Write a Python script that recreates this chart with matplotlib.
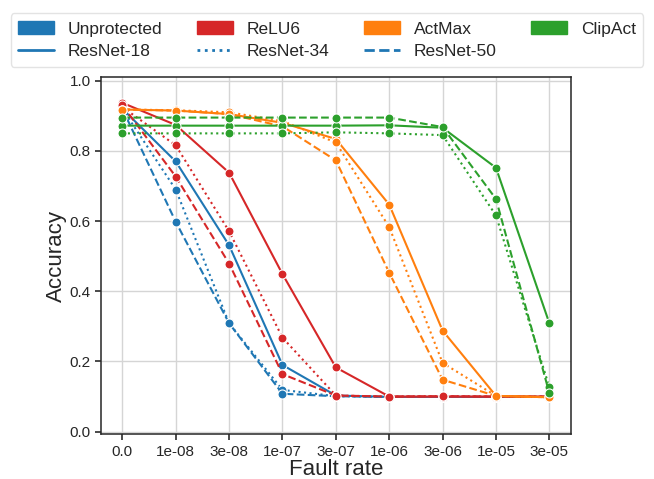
import matplotlib
matplotlib.use("Agg")
import matplotlib.pyplot as plt
import seaborn as sns
from matplotlib.patches import Patch
from matplotlib.lines import Line2D

sns.set_theme(style="ticks")
plt.rcParams['font.family'] = ['Liberation Sans', 'DejaVu Sans']

fault_rates = ["0.0", "1e-08", "3e-08", "1e-07", "3e-07", "1e-06", "3e-06", "1e-05", "3e-05"]
methods = ["Unprotected", "ReLU6", "ActMax", "ClipAct"]
networks = ["ResNet-18", "ResNet-34", "ResNet-50"]

unprotected_r18 = [0.920, 0.770, 0.531, 0.190, 0.103, 0.099, 0.099, 0.099, 0.099]
unprotected_r34 = [0.920, 0.690, 0.309, 0.119, 0.101, 0.099, 0.099, 0.099, 0.099]
unprotected_r50 = [0.920, 0.598, 0.309, 0.108, 0.101, 0.099, 0.099, 0.099, 0.099]

relu6_r18 = [0.937, 0.874, 0.738, 0.449, 0.183, 0.100, 0.100, 0.100, 0.100]
relu6_r34 = [0.925, 0.816, 0.571, 0.268, 0.103, 0.100, 0.101, 0.100, 0.100]
relu6_r50 = [0.930, 0.727, 0.479, 0.164, 0.103, 0.100, 0.101, 0.100, 0.100]

actmax_r18 = [0.918, 0.915, 0.905, 0.880, 0.834, 0.647, 0.288, 0.102, 0.098]
actmax_r34 = [0.918, 0.916, 0.910, 0.885, 0.824, 0.583, 0.196, 0.102, 0.098]
actmax_r50 = [0.918, 0.915, 0.905, 0.870, 0.773, 0.453, 0.148, 0.102, 0.098]

clipact_r18 = [0.872, 0.872, 0.872, 0.872, 0.872, 0.873, 0.866, 0.752, 0.309]
clipact_r34 = [0.850, 0.850, 0.850, 0.850, 0.853, 0.850, 0.845, 0.616, 0.127]
clipact_r50 = [0.895, 0.895, 0.895, 0.895, 0.895, 0.895, 0.868, 0.663, 0.110]

series = {
    "Unprotected": [unprotected_r18, unprotected_r34, unprotected_r50],
    "ReLU6": [relu6_r18, relu6_r34, relu6_r50],
    "ActMax": [actmax_r18, actmax_r34, actmax_r50],
    "ClipAct": [clipact_r18, clipact_r34, clipact_r50],
}

palette = sns.color_palette("tab10")
colors = {"Unprotected": palette[0], "ReLU6": palette[3], "ActMax": palette[1], "ClipAct": palette[2]}
styles = {"ResNet-18": "-", "ResNet-34": ":", "ResNet-50": "--"}

fig = plt.figure(figsize=(6.54, 4.79), dpi=100)
ax = fig.add_axes([101 / 654, 1 - 434.3 / 479, (570.7 - 101) / 654, (434.3 - 76.7) / 479])

xpos = list(range(len(fault_rates)))
for m in methods:
    for net, vals in zip(networks, series[m]):
        ax.plot(xpos, vals, color=colors[m], linestyle=styles[net], linewidth=1.5,
                marker="o", markersize=6.5, markeredgecolor="white", markeredgewidth=0.8)

ax.set_xticks(xpos)
ax.set_xticklabels(fault_rates)
ax.set_xlim(-0.4, len(fault_rates) - 1 + 0.4)
ax.set_ylim(-0.0075, 1.0115)
ax.set_yticks([0.0, 0.2, 0.4, 0.6, 0.8, 1.0])
ax.grid(True, color="#d5d5d5", linewidth=1.0)
ax.set_axisbelow(True)
ax.tick_params(axis="both", labelsize=11, length=4, color="#333333", labelcolor="#262626")
for s in ax.spines.values():
    s.set_color("#262626")
    s.set_linewidth(1.1)
ax.set_xlabel("Fault rate", fontsize=16, color="#262626", labelpad=0)
ax.set_ylabel("Accuracy", fontsize=16, color="#262626", labelpad=2)

handles = [Patch(facecolor=colors[m], edgecolor=colors[m], label=m) for m in methods]
handles += [Line2D([0], [0], color=palette[0], linestyle=styles[n], linewidth=2, label=n) for n in networks]
handles += [Line2D([], [], linestyle="none", label=" ")]
order = [handles[0], handles[4], handles[1], handles[5], handles[2], handles[6], handles[3], handles[7]]
fig.legend(handles=order, loc="upper center", bbox_to_anchor=(0.5, 0.99), ncol=4,
           fontsize=12.5, frameon=True, edgecolor="#dddddd", handlelength=2.05,
           columnspacing=2.0, borderpad=0.45, labelspacing=0.38, handleheight=0.75,
           handletextpad=0.8)

fig.savefig("out.png", dpi=100)
